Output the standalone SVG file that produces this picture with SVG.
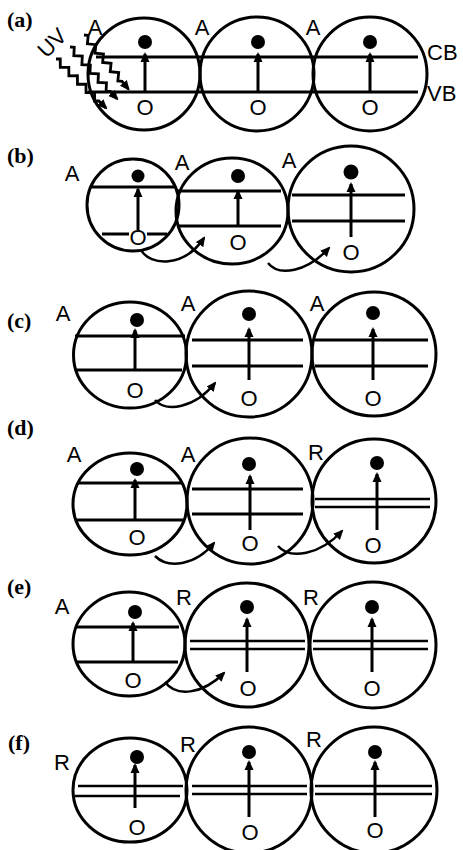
<svg xmlns="http://www.w3.org/2000/svg" xmlns:xlink="http://www.w3.org/1999/xlink" width="463" height="850" viewBox="0 0 463 850">
  <style>
    .ring { fill: none; stroke: #000; stroke-width: 3; }
    .band { stroke: #000; stroke-width: 3; }
    .dbl { stroke: #000; stroke-width: 2.5; }
    .up { stroke: #000; stroke-width: 3; marker-end: url(#ah); }
    .dot { fill: #000; }
    .lbl { font-family: "Liberation Sans", Arial, sans-serif; font-size: 22px; fill: #000; }
    .mid { text-anchor: middle; }
    .tag { font-family: "Liberation Serif", "Times New Roman", serif; font-weight: bold; font-size: 22px; fill: #000; }
    .hop { fill: none; stroke: #000; stroke-width: 2.5; marker-end: url(#ah); }
    .wave { fill: none; stroke: #000; stroke-width: 2.8; marker-end: url(#ah); }
  </style>
  <defs>
    <marker id="ah" markerUnits="userSpaceOnUse" markerWidth="10" markerHeight="10" viewBox="0 0 10 10" refX="8" refY="5" orient="auto">
      <path d="M0,0.5 L10,5 L0,9.5 z" fill="#000"/>
    </marker>
    <!-- zig-zag photon ray drawn along +x, placed with a rotation -->
    <path id="zz" class="wave" d="M0,0 L3,-3 L9,3 L15,-3 L21,3 L27,-3 L33,3 L39,-3 L45,3 L51,-3 L57,3 L60,0 L70,0"/>
  </defs>

  <!-- panel (a) -->
  <g id="panel-a">
    <text class="tag" x="7" y="27">(a)</text>
    <text class="lbl mid" transform="translate(52,43) rotate(-45)" y="7.5">UV</text>
    <line class="band" x1="96" y1="57" x2="418" y2="57"/>
    <line class="band" x1="88" y1="92" x2="418" y2="92"/>
    <text class="lbl" x="427" y="60">CB</text>
    <text class="lbl" x="427" y="101">VB</text>
    <g id="a1">
      <circle class="ring" cx="144" cy="74" r="56"/>
      <circle class="dot" cx="145" cy="42" r="7"/>
      <line class="up" x1="145" y1="92" x2="145" y2="54"/>
      <text class="lbl mid" x="145" y="115">O</text>
      <text class="lbl mid" x="95" y="35">A</text>
    </g>
    <g id="a2">
      <circle class="ring" cx="257" cy="74" r="57"/>
      <circle class="dot" cx="258" cy="42" r="7"/>
      <line class="up" x1="258" y1="92" x2="258" y2="54"/>
      <text class="lbl mid" x="258" y="115">O</text>
      <text class="lbl mid" x="202" y="35">A</text>
    </g>
    <g id="a3">
      <circle class="ring" cx="370" cy="74" r="57"/>
      <circle class="dot" cx="370" cy="42" r="7"/>
      <line class="up" x1="370" y1="92" x2="370" y2="54"/>
      <text class="lbl mid" x="370" y="115">O</text>
      <text class="lbl mid" x="313" y="35">A</text>
    </g>
  </g>

  <!-- panel (b) -->
  <g id="panel-b">
    <text class="tag" x="7" y="163">(b)</text>
    <g id="b1">
      <circle class="ring" cx="133" cy="205" r="46"/>
      <line class="band" x1="91" y1="187" x2="176" y2="187"/>
      <line class="band" x1="102" y1="234" x2="129" y2="234"/>
      <line class="band" x1="147" y1="234" x2="167" y2="234"/>
      <circle class="dot" cx="138" cy="176" r="6.5"/>
      <line class="up" x1="138" y1="230" x2="138" y2="189"/>
      <text class="lbl mid" x="138" y="245">O</text>
      <text class="lbl mid" x="72" y="181">A</text>
    </g>
    <g id="b2">
      <ellipse class="ring" cx="232" cy="211" rx="56" ry="53"/>
      <line class="band" x1="177" y1="191" x2="281" y2="191"/>
      <line class="band" x1="177" y1="226" x2="281" y2="226"/>
      <circle class="dot" cx="238" cy="176" r="7"/>
      <line class="up" x1="238" y1="227" x2="238" y2="191"/>
      <text class="lbl mid" x="238" y="250">O</text>
      <text class="lbl mid" x="182" y="170">A</text>
    </g>
    <g id="b3">
      <circle class="ring" cx="351" cy="209" r="63"/>
      <line class="band" x1="292" y1="195" x2="405" y2="195"/>
      <line class="band" x1="292" y1="221" x2="405" y2="221"/>
      <circle class="dot" cx="351" cy="172" r="7.5"/>
      <line class="up" x1="351" y1="237" x2="351" y2="184"/>
      <text class="lbl mid" x="351" y="260">O</text>
      <text class="lbl mid" x="289" y="168">A</text>
    </g>
  </g>

  <!-- panel (c) -->
  <g id="panel-c">
    <text class="tag" x="7" y="328">(c)</text>
    <g id="c1">
      <ellipse class="ring" cx="130" cy="355" rx="56.5" ry="53"/>
      <line class="band" x1="75" y1="336" x2="185" y2="336"/>
      <line class="band" x1="77" y1="370" x2="182" y2="370"/>
      <circle class="dot" cx="137" cy="320" r="7"/>
      <line class="up" x1="135" y1="370" x2="135" y2="330"/>
      <text class="lbl mid" x="135" y="398">O</text>
      <text class="lbl mid" x="63" y="321">A</text>
    </g>
    <g id="c2">
      <circle class="ring" cx="249" cy="354" r="63"/>
      <line class="band" x1="192" y1="340" x2="303" y2="340"/>
      <line class="band" x1="192" y1="366" x2="303" y2="366"/>
      <circle class="dot" cx="249" cy="314" r="7"/>
      <line class="up" x1="249" y1="380" x2="249" y2="329"/>
      <text class="lbl mid" x="249" y="406">O</text>
      <text class="lbl mid" x="188" y="311">A</text>
    </g>
    <g id="c3">
      <circle class="ring" cx="374" cy="354" r="62"/>
      <line class="band" x1="315" y1="340" x2="428" y2="340"/>
      <line class="band" x1="315" y1="366" x2="428" y2="366"/>
      <circle class="dot" cx="373" cy="313" r="7"/>
      <line class="up" x1="373" y1="380" x2="373" y2="329"/>
      <text class="lbl mid" x="373" y="406">O</text>
      <text class="lbl mid" x="317" y="311">A</text>
    </g>
  </g>

  <!-- panel (d) -->
  <g id="panel-d">
    <text class="tag" x="7" y="435">(d)</text>
    <g id="d1">
      <ellipse class="ring" cx="130" cy="504" rx="57" ry="51"/>
      <line class="band" x1="77" y1="483" x2="183" y2="483"/>
      <line class="band" x1="77" y1="520" x2="183" y2="520"/>
      <circle class="dot" cx="137" cy="469" r="7"/>
      <line class="up" x1="135" y1="520" x2="135" y2="480"/>
      <text class="lbl mid" x="137" y="545">O</text>
      <text class="lbl mid" x="74" y="462">A</text>
    </g>
    <g id="d2">
      <circle class="ring" cx="250" cy="501" r="63"/>
      <line class="band" x1="192" y1="489" x2="303" y2="489"/>
      <line class="band" x1="192" y1="514" x2="303" y2="514"/>
      <circle class="dot" cx="249" cy="464" r="7"/>
      <line class="up" x1="250" y1="530" x2="250" y2="476"/>
      <text class="lbl mid" x="250" y="551">O</text>
      <text class="lbl mid" x="188" y="462">A</text>
    </g>
    <g id="d3">
      <circle class="ring" cx="374" cy="501" r="62"/>
      <line class="dbl" x1="315" y1="499" x2="430" y2="499"/>
      <line class="dbl" x1="315" y1="507" x2="430" y2="507"/>
      <circle class="dot" cx="377" cy="463" r="7"/>
      <line class="up" x1="377" y1="530" x2="377" y2="474"/>
      <text class="lbl mid" x="373" y="553">O</text>
      <text class="lbl mid" x="316" y="460">R</text>
    </g>
  </g>

  <!-- panel (e) -->
  <g id="panel-e">
    <text class="tag" x="7" y="594">(e)</text>
    <g id="e1">
      <ellipse class="ring" cx="129" cy="644" rx="56" ry="52"/>
      <line class="band" x1="77" y1="627" x2="179" y2="627"/>
      <line class="band" x1="77" y1="662" x2="178" y2="662"/>
      <circle class="dot" cx="135" cy="612" r="7"/>
      <line class="up" x1="133" y1="662" x2="133" y2="623"/>
      <text class="lbl mid" x="133" y="688">O</text>
      <text class="lbl mid" x="62" y="614">A</text>
    </g>
    <g id="e2">
      <circle class="ring" cx="247" cy="645" r="62"/>
      <line class="dbl" x1="190" y1="641" x2="305" y2="641"/>
      <line class="dbl" x1="190" y1="649" x2="305" y2="649"/>
      <circle class="dot" cx="247" cy="607" r="7"/>
      <line class="up" x1="247" y1="672" x2="247" y2="619"/>
      <text class="lbl mid" x="248" y="696">O</text>
      <text class="lbl mid" x="184" y="605">R</text>
    </g>
    <g id="e3">
      <circle class="ring" cx="373" cy="645" r="63"/>
      <line class="dbl" x1="313" y1="641" x2="428" y2="641"/>
      <line class="dbl" x1="313" y1="649" x2="428" y2="649"/>
      <circle class="dot" cx="372" cy="607" r="7"/>
      <line class="up" x1="372" y1="672" x2="372" y2="619"/>
      <text class="lbl mid" x="372" y="696">O</text>
      <text class="lbl mid" x="311" y="605">R</text>
    </g>
  </g>

  <!-- panel (f) -->
  <g id="panel-f">
    <text class="tag" x="8" y="750">(f)</text>
    <g id="f1">
      <ellipse class="ring" cx="130" cy="790" rx="57" ry="52"/>
      <line class="dbl" x1="78" y1="786" x2="183" y2="786"/>
      <line class="dbl" x1="75" y1="796" x2="180" y2="796"/>
      <circle class="dot" cx="137" cy="757" r="7"/>
      <line class="up" x1="135" y1="808" x2="135" y2="765"/>
      <text class="lbl mid" x="137" y="835">O</text>
      <text class="lbl mid" x="62" y="770">R</text>
    </g>
    <g id="f2">
      <circle class="ring" cx="249" cy="790" r="63"/>
      <line class="dbl" x1="192" y1="786" x2="307" y2="786"/>
      <line class="dbl" x1="192" y1="794" x2="307" y2="794"/>
      <circle class="dot" cx="249" cy="752" r="7"/>
      <line class="up" x1="249" y1="817" x2="249" y2="762"/>
      <text class="lbl mid" x="250" y="840">O</text>
      <text class="lbl mid" x="188" y="752">R</text>
    </g>
    <g id="f3">
      <circle class="ring" cx="374" cy="790" r="63"/>
      <line class="dbl" x1="315" y1="786" x2="432" y2="786"/>
      <line class="dbl" x1="315" y1="794" x2="432" y2="794"/>
      <circle class="dot" cx="375" cy="752" r="7"/>
      <line class="up" x1="375" y1="817" x2="375" y2="762"/>
      <text class="lbl mid" x="375" y="838">O</text>
      <text class="lbl mid" x="314" y="747">R</text>
    </g>
  </g>

  <!-- connectors: UV rays and hole-transfer arrows -->
  <g id="connectors">
    <use xlink:href="#zz" href="#zz" transform="translate(84,35) rotate(50.6)"/>
    <use xlink:href="#zz" href="#zz" transform="translate(70,47) rotate(47.8)"/>
    <use xlink:href="#zz" href="#zz" transform="translate(56,59) rotate(44.4)"/>
    <path class="hop" d="M141,250 C150,266 184,268 204,238"/>
    <path class="hop" d="M268,263 C279,277 307,272 329,248"/>
    <path class="hop" d="M155,400 C166,413 195,408 215,383"/>
    <path class="hop" d="M155,556 C168,569 195,566 214,543"/>
    <path class="hop" d="M278,546 C290,560 320,555 342,531"/>
    <path class="hop" d="M165,682 C176,697 202,695 224,673"/>
  </g>
</svg>
